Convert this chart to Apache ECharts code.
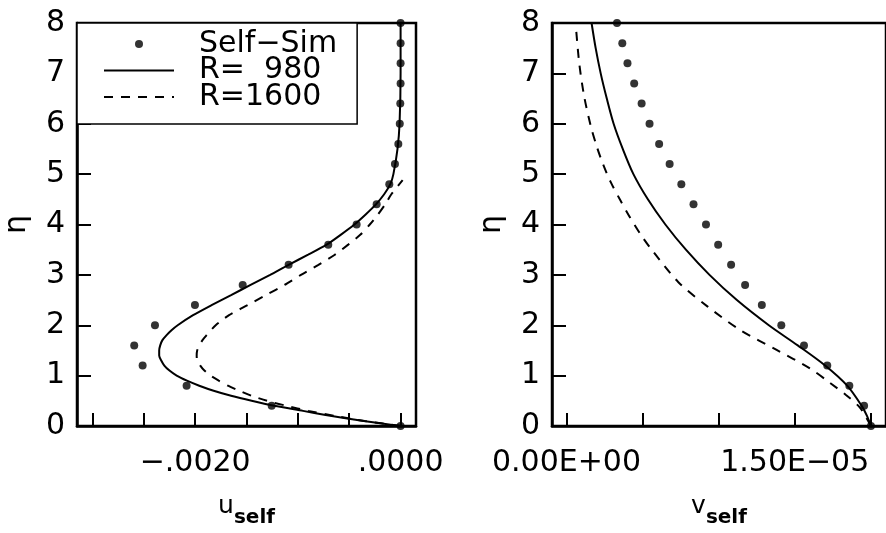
<!DOCTYPE html>
<html>
<head>
<meta charset="utf-8">
<script src="https://cdn.jsdelivr.net/npm/echarts@6/dist/echarts.min.js"></script>
<style>
html,body{margin:0;padding:0;background:#fff;}
#chart{width:886px;height:533px;}
</style>
</head>
<body>
<div id="chart"></div>
<script>
// ---- data ----
const seriesNames = ['Self\u2212Sim', 'R=  980', 'R=1600'];

// Self-similar dots (eta step 0.4)
const etaDots = [0,0.4,0.8,1.2,1.6,2.0,2.4,2.8,3.2,3.6,4.0,4.4,4.8,5.2,5.6,6.0,6.4,6.8,7.2,7.6,8.0];
const uSelfSim = [0,-0.001255,-0.002083,-0.002511,-0.002593,-0.002391,-0.002002,-0.001537,-0.001090,-0.000704,-0.000428,-0.000233,-0.000110,-0.000055,-0.000022,-0.000008,-0.000003,0,0,0,0];
const vSelfSim = [20.01e-6,19.56e-6,18.59e-6,17.14e-6,15.61e-6,14.12e-6,12.84e-6,11.74e-6,10.82e-6,9.97e-6,9.17e-6,8.35e-6,7.55e-6,6.78e-6,6.09e-6,5.46e-6,4.94e-6,4.45e-6,4.01e-6,3.67e-6,3.32e-6];

// u_self, R = 980 (solid)
const etaU980 = [0,0.05,0.1,0.16,0.22,0.3,0.4,0.5,0.6,0.7,0.8,0.9,1.0,1.1,1.2,1.3,1.4,1.5,1.6,1.7,1.8,1.9,2.0,2.2,2.4,2.6,2.8,3.0,3.2,3.4,3.6,3.8,4.0,4.2,4.4,4.6,4.8,5.0,5.5,6.0,7.0,8.0];
const uR980 = [0,-0.00018,-0.00036,-0.00055,-0.00073,-0.00095,-0.00123,-0.00145,-0.00165,-0.00182,-0.00196,-0.00208,-0.00218,-0.00225,-0.00230,-0.00233,-0.00235,-0.00235,-0.00234,-0.00232,-0.00228,-0.00223,-0.00217,-0.00202,-0.00184,-0.00165,-0.00146,-0.00127,-0.00109,-0.00090,-0.00072,-0.00058,-0.00045,-0.00034,-0.00024,-0.00016,-0.00010,-0.00007,-0.00003,-0.00001,0,0];

// u_self, R = 1600 (dashed)
const etaU1600 = [0,0.1,0.2,0.3,0.4,0.5,0.6,0.7,0.8,0.9,1.0,1.1,1.2,1.3,1.4,1.5,1.6,1.7,1.8,2.0,2.2,2.4,2.6,2.8,3.0,3.2,3.4,3.6,3.8,4.0,4.2,4.4,4.6,4.88];
const uR1600 = [0,-0.00035,-0.00064,-0.0009,-0.00111,-0.0013,-0.00145,-0.00157,-0.00168,-0.00177,-0.00185,-0.00191,-0.00195,-0.00198,-0.001985,-0.00198,-0.00196,-0.00193,-0.00189,-0.0018,-0.00167,-0.00149,-0.00131,-0.00113,-0.00097,-0.0008,-0.00064,-0.00051,-0.00039,-0.0003,-0.00022,-0.00015,-0.00009,0.00002];

// v_self, R = 980 (solid)
const etaV980 = [0,0.2,0.4,0.8,1.2,1.6,2.0,2.5,3.0,3.5,4.0,4.5,5.0,5.5,6.0,6.5,7.0,7.5,8.0];
const vR980 = [20.0e-6,19.75e-6,19.4e-6,18.45e-6,17.0e-6,15.2e-6,13.3e-6,11.2e-6,9.4e-6,7.85e-6,6.5e-6,5.35e-6,4.4e-6,3.7e-6,3.1e-6,2.65e-6,2.25e-6,1.92e-6,1.65e-6];

// v_self, R = 1600 (dashed)
const etaV1600 = [0,0.36,0.62,0.85,1.15,1.51,1.9,2.37,2.86,3.52,3.81,4.18,4.47,4.84,5.2,5.56,5.95,6.55,7.2,8.0];
const vR1600 = [20.0e-6,19.3e-6,18.35e-6,17.35e-6,15.97e-6,13.81e-6,11.44e-6,9.28e-6,7.34e-6,5.55e-6,4.86e-6,4.1e-6,3.56e-6,2.91e-6,2.4e-6,1.98e-6,1.6e-6,1.16e-6,0.84e-6,0.6e-6];

// axes
const etaMin = 0, etaMax = 8, etaStep = 1;
const uMin = -0.00315, uMax = 0.00015;
const uTicks = [-0.003,-0.0025,-0.002,-0.0015,-0.001,-0.0005,0];
const uLabels = [-0.002, 0];
const vMin = -0.95e-6, vMax = 2.1e-5;
const vTicks = [0,5e-6,10e-6,15e-6,20e-6];
const vLabels = [0, 15e-6];

// ---- chart ----
const FONT = 'DejaVu Sans';
const zip = (xs, ys) => xs.map((x, i) => [x, ys[i]]);

function fmtU(v){
  const s = Math.abs(v).toFixed(4).replace(/^0/, '');
  return (v < -1e-12 ? '\u2212' : '') + s;
}
function fmtV(v){
  if (Math.abs(v) < 1e-15) return '0.00E+00';
  const e = Math.floor(Math.log10(Math.abs(v)) + 1e-9);
  const m = v / Math.pow(10, e);
  return m.toFixed(2) + 'E' + (e < 0 ? '\u2212' : '+') + String(Math.abs(e)).padStart(2, '0');
}

const axisLineStyle = {color:'#000', width:2.5};
function xAxisCfg(gi, min, max, ticks, labels, fmt, nameMain){
  return {
    type:'value', gridIndex:gi, min:min, max:max,
    axisLine:{show:true, onZero:false, lineStyle:axisLineStyle},
    axisTick:{show:true, inside:true, length:13, customValues:ticks, lineStyle:{color:'#000', width:2}},
    axisLabel:{show:true, customValues:labels, formatter:fmt, margin:22,
      fontFamily:FONT, fontSize:30, color:'#000', lineHeight:30},
    splitLine:{show:false},
    name:'{m|' + nameMain + '}{s|self}', nameLocation:'middle', nameGap:68,
    nameTextStyle:{
      rich:{
        m:{fontFamily:FONT, fontSize:25, color:'#000', verticalAlign:'top', lineHeight:34},
        s:{fontFamily:FONT, fontSize:20, fontWeight:'bold', color:'#000', verticalAlign:'bottom', lineHeight:34}
      }
    }
  };
}
function yAxisCfg(gi){
  return {
    type:'value', gridIndex:gi, min:etaMin, max:etaMax, interval:etaStep,
    axisLine:{show:true, onZero:false, lineStyle:axisLineStyle},
    axisTick:{show:true, inside:true, length:14, lineStyle:{color:'#000', width:2}},
    axisLabel:{show:true, margin:12, fontFamily:FONT, fontSize:30, color:'#000'},
    splitLine:{show:false},
    name:'\u03b7', nameLocation:'middle', nameGap:45,
    nameTextStyle:{fontFamily:FONT, fontSize:30, color:'#000'}
  };
}

const dotStyle = {color:'#000'};
const hiddenSymbol = {opacity:0};
const option = {
  backgroundColor:'#fff',
  animation:false,
  grid:[
    {left:77, top:23, width:339, height:405, show:true, borderColor:'#000', borderWidth:2.5, backgroundColor:'transparent'},
    {left:552, top:23, width:339, height:405, show:true, borderColor:'#000', borderWidth:2.5, backgroundColor:'transparent'}
  ],
  xAxis:[
    xAxisCfg(0, uMin, uMax, uTicks, uLabels, fmtU, 'u'),
    xAxisCfg(1, vMin, vMax, vTicks, vLabels, fmtV, 'v')
  ],
  yAxis:[ yAxisCfg(0), yAxisCfg(1) ],
  legend:{
    left:77, top:23, orient:'vertical',
    itemWidth:70, itemHeight:8, itemGap:-3.5,
    padding:[6,20,12,26],
    borderColor:'#000', borderWidth:1.5, backgroundColor:'#fff',
    textStyle:{fontFamily:FONT, fontSize:30, color:'#000', padding:[0,0,0,20]},
    data:[
      {name:seriesNames[0], icon:'circle'},
      {name:seriesNames[1], itemStyle:hiddenSymbol},
      {name:seriesNames[2], itemStyle:hiddenSymbol}
    ],
    selectedMode:false
  },
  series:[
    {name:seriesNames[0], type:'scatter', xAxisIndex:0, yAxisIndex:0, symbol:'circle', symbolSize:8,
     itemStyle:dotStyle, clip:false, data:zip(uSelfSim, etaDots)},
    {name:seriesNames[1], type:'line', xAxisIndex:0, yAxisIndex:0, symbol:'none', smooth:0.25,
     lineStyle:{color:'#000', width:2, type:'solid'}, itemStyle:{color:'#000'}, data:zip(uR980, etaU980)},
    {name:seriesNames[2], type:'line', xAxisIndex:0, yAxisIndex:0, symbol:'none', smooth:0.25,
     lineStyle:{color:'#000', width:2, type:[9,8]}, itemStyle:{color:'#000'}, data:zip(uR1600, etaU1600)},
    {name:seriesNames[0], type:'scatter', xAxisIndex:1, yAxisIndex:1, symbol:'circle', symbolSize:8,
     itemStyle:dotStyle, clip:false, data:zip(vSelfSim, etaDots)},
    {name:seriesNames[1], type:'line', xAxisIndex:1, yAxisIndex:1, symbol:'none', smooth:0.3,
     lineStyle:{color:'#000', width:2, type:'solid'}, itemStyle:{color:'#000'}, data:zip(vR980, etaV980)},
    {name:seriesNames[2], type:'line', xAxisIndex:1, yAxisIndex:1, symbol:'none', smooth:0.3,
     lineStyle:{color:'#000', width:2, type:[9,8]}, itemStyle:{color:'#000'}, data:zip(vR1600, etaV1600)}
  ]
};

const chart = echarts.init(document.getElementById('chart'), null, {renderer:'canvas'});
chart.setOption(option);
</script>
</body>
</html>
